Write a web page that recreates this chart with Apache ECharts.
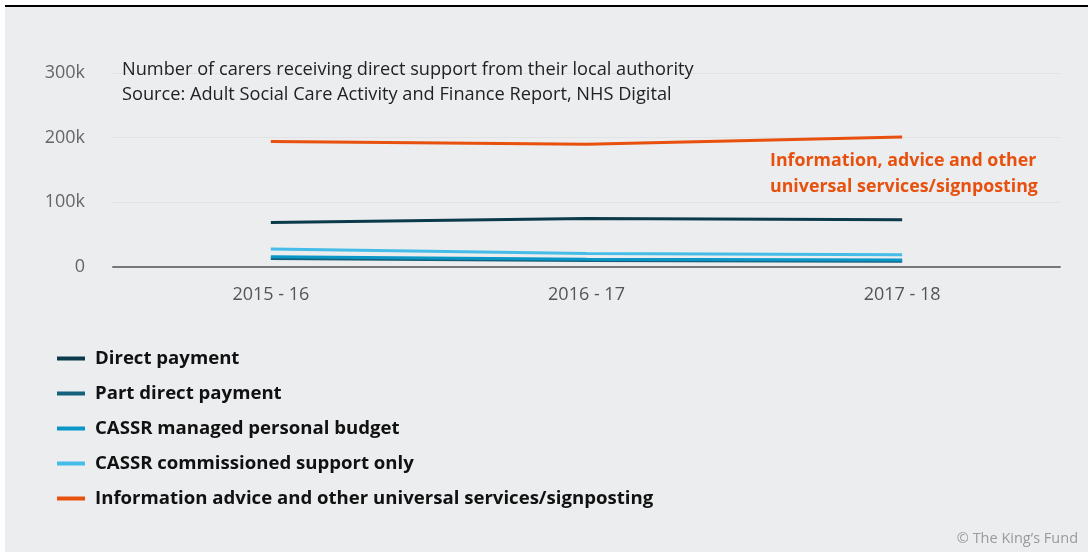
<!DOCTYPE html>
<html>
<head>
<meta charset="utf-8">
<script src="https://cdn.jsdelivr.net/npm/echarts@6/dist/echarts.min.js"></script>
<style>
  html, body { margin: 0; padding: 0; background: #ffffff; }
  #wrap {
    position: absolute; left: 5px; top: 5px;
    width: 1083px; height: 545px;
    border-top: 2px solid #000;
    background: #ecedef;
  }
  #chart { width: 1083px; height: 545px; }
</style>
</head>
<body>
<div id="wrap"><div id="chart"></div></div>
<script>
// Carers receiving direct support, by type of support
const years = ['2015 - 16', '2016 - 17', '2017 - 18'];
const directPayment = [69000, 75000, 73000];
const partDirectPayment = [13000, 10000, 9000];
const cassrManaged = [16000, 12000, 11000];
const cassrCommissioned = [28000, 21000, 19000];
const infoAdvice = [194000, 190000, 201000];
const yTicks = [0, 100000, 200000, 300000];

const FONT = '"Open Sans", "Noto Sans", sans-serif';

const seriesDefs = [
  { name: 'Direct payment', data: directPayment, color: '#0b3a4a' },
  { name: 'Part direct payment', data: partDirectPayment, color: '#15607a' },
  { name: 'CASSR managed personal budget', data: cassrManaged, color: '#0a97c8' },
  { name: 'CASSR commissioned support only', data: cassrCommissioned, color: '#45bde8' },
  { name: 'Information advice and other universal services/signposting', data: infoAdvice, color: '#e8500e' }
];

const chart = echarts.init(document.getElementById('chart'), null, { renderer: 'canvas' });

chart.setOption({
  backgroundColor: '#ecedef',
  animation: false,
  textStyle: { fontFamily: FONT },
  grid: { left: 108, right: 28, top: 66, bottom: 285 },
  title: {
    text: 'Number of carers receiving direct support from their local authority\nSource: Adult Social Care Activity and Finance Report, NHS Digital',
    left: 112, top: 45,
    textStyle: { fontFamily: FONT, fontSize: 18.2, fontWeight: 'normal', color: '#222', lineHeight: 25 }
  },
  legend: {
    orient: 'vertical',
    left: 47, top: 337,
    itemWidth: 28, itemHeight: 4, itemGap: 16,
    icon: 'rect',
    textStyle: { fontFamily: FONT, fontSize: 18.6, fontWeight: 'bold', color: '#111', padding: [0, 0, 0, 5] },
    data: seriesDefs.map(s => s.name)
  },
  xAxis: {
    type: 'category',
    data: years,
    boundaryGap: true,
    axisLine: { lineStyle: { color: '#777', width: 2 } },
    axisTick: { show: false },
    axisLabel: { fontFamily: FONT, fontSize: 18, color: '#555', margin: 19 }
  },
  yAxis: {
    type: 'value',
    min: 0, max: 300000, interval: 100000,
    axisLine: { show: false },
    axisTick: { show: false },
    splitLine: { lineStyle: { color: '#e1e2e4', width: 1 } },
    axisLabel: {
      fontFamily: FONT, fontSize: 18, color: '#666', margin: 28,
      formatter: v => (yTicks.includes(v) ? (v === 0 ? '0' : (v / 1000) + 'k') : '')
    }
  },
  series: seriesDefs.map(s => ({
    name: s.name,
    type: 'line',
    data: s.data,
    showSymbol: false,
    symbol: 'none',
    smooth: false,
    color: s.color,
    lineStyle: { color: s.color, width: 3 }
  })),
  graphic: [
    {
      type: 'text',
      left: 765, top: 141,
      style: {
        text: 'Information, advice and other\nuniversal services/signposting',
        fill: '#e8500e',
        font: 'bold 17.8px ' + FONT,
        lineHeight: 26
      }
    },
    {
      type: 'text',
      right: 10, top: 524,
      style: {
        text: '\u00a9 The King\u2019s Fund',
        fill: '#9a9a9a',
        font: '14.5px ' + FONT
      }
    }
  ]
});
</script>
</body>
</html>
